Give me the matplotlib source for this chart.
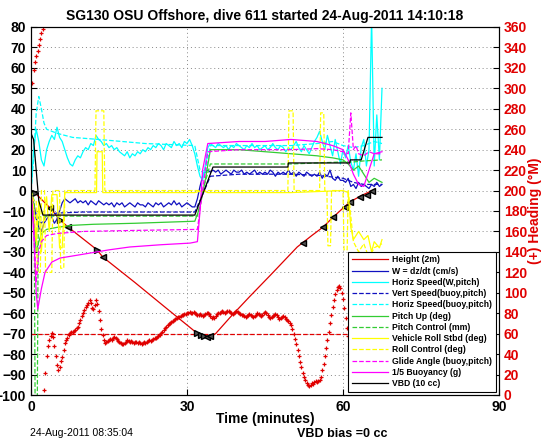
import matplotlib.pyplot as plt
import numpy as np

plt.rcParams['font.family'] = ['Liberation Sans', 'DejaVu Sans']
plt.rcParams['font.weight'] = 'bold'
plt.rcParams['axes.linewidth'] = 0.8
plt.rcParams['xtick.direction'] = 'in'
plt.rcParams['ytick.direction'] = 'in'

RED = '#e00000'
BLUE = '#1010c0'
CYAN = '#00ffff'
GREEN = '#33cc33'
YELLOW = '#ffff00'
MAGENTA = '#ff00ff'

# depth / height line (left axis)
t_depth = [0, 0.8, 3.7, 5.6, 7.1, 12.7, 13.8, 20, 26, 31.9, 33.8, 35.5, 38.3, 42, 46, 51.2, 54, 56.2, 58.1, 61.3, 63.5, 65.6]
depth = [0, -1.2, -8.6, -14.4, -17.8, -29, -32.5, -45, -57.5, -69.7, -71.7, -70, -62, -52, -41.5, -27.6, -22, -17.8, -13, -5.6, -2.5, 0]
bottom_t = [0, 66]
bottom_v = [-70, -70]

tri_r_t = [0.8, 5.6, 12.7, 31.9, 32.6, 33.3]
tri_r_v = [-1.2, -14.4, -29, -69.7, -70.5, -71.2]
tri_l_t = [3.7, 7.1, 13.8, 33.8, 34.4, 52.3, 56.2, 58.1, 60.4, 61.3, 63.3, 64.6, 65.6]
tri_l_v = [-8.6, -17.8, -32.5, -71.7, -71.2, -25.7, -17.8, -13, -8, -5.6, -3.2, -2, -0.2]

# heading (right axis, 0-360), one fix every 15 s from t=0.25
t_hd = np.arange(0.25, 65.3, 0.25)
heading = [305, 318, 326, 332, 337, 342, 348, 354, 358, 5, 22, 38, 48, 54, 58, 61, 57, 48, 38, 29,
           24, 27, 33, 37, 44, 51, 54, 56, 59, 61, 62, 62, 63, 64, 66, 67, 70, 73, 77, 80,
           83, 86, 88, 90, 93, 90, 85, 84, 88, 93, 89, 82, 73, 65, 59, 54, 51, 52, 53, 54,
           55, 54, 56, 57, 56, 55, 53, 52, 51, 50, 50, 51, 52, 54, 53, 52, 53, 52, 51, 52,
           52, 51, 52, 51, 50, 51, 52, 51, 52, 53, 54, 53, 54, 55, 56, 56, 57, 58, 59, 61,
           62, 64, 66, 67, 68, 69, 70, 71, 72, 73, 74, 75, 76, 76, 77, 78, 78, 79, 79, 80,
           80, 81, 80, 80, 81, 80, 79, 78, 78, 79, 78, 77, 78, 79, 80, 80, 79, 77, 75, 76,
           75, 77, 79, 80, 80, 81, 82, 81, 80, 81, 82, 82, 81, 80, 79, 80, 81, 82, 81, 80,
           79, 78, 78, 77, 76, 77, 78, 79, 78, 77, 76, 77, 78, 80, 79, 78, 77, 78, 80, 81,
           80, 78, 76, 75, 76, 77, 78, 79, 78, 76, 74, 75, 76, 77, 76, 74, 73, 72, 70, 68,
           65, 60, 55, 50, 44, 38, 32, 27, 22, 18, 15, 12, 10, 9, 10, 12, 11, 13, 14, 13,
           14, 15, 18, 24, 30, 38, 46, 54, 62, 70, 78, 86, 93, 99, 103, 106, 107, 105, 100, 94,
           85, 75, 66, 58, 52, 48, 47, 49, 52, 55, 57, 58, 56, 54, 57, 60, 62, 60, 58, 61,
           63]

# fast sampled series, every 30 s from t=0
t_fast = np.arange(0, 68, 0.5)
horiz_w = [0, 20, 30, 24, 15, 12, 20, 24, 27, 25,
           31, 26, 24, 20, 16, 13, 12, 15, 17, 16,
           19, 21, 20, 23, 22, 27, 25, 24, 22, 23,
           21, 22, 20, 21, 19, 18, 17, 19, 16, 18,
           17, 19, 18, 20, 19, 21, 20, 22, 21, 23,
           22, 20, 23, 22, 21, 24, 22, 23, 21, 24,
           23, 25, 22, 18, 12, 7, 5, 12, 21, 23,
           22, 21, 23, 22, 21, 22, 20, 22, 21, 23,
           22, 21, 20, 22, 21, 23, 21, 22, 20, 21,
           22, 20, 21, 23, 21, 20, 22, 21, 19, 21,
           20, 22, 24, 21, 19, 22, 20, 18, 21, 24,
           26, 29, 24, 20, 27, 22, 17, 25, 19, 13,
           20, 16, 22, 14, 10, 18, 7, 21, 25, 12,
           20, 85, 12, 37, 15, 50]
w_speed = [0, -6, -12, -18, -20, -16, -14, -12, -13, -16,
           -14, -10, -6, -4, -5, -6, -5, -4, -6, -5,
           -6, -5, -7, -5, -6, -7, -5, -6, -7, -6,
           -7, -6, -8, -6, -7, -6, -8, -7, -6, -7,
           -8, -6, -7, -7, -8, -6, -7, -8, -6, -7,
           -6, -8, -7, -6, -7, -5, -7, -6, -8, -7,
           -6, -7, -8, -8, -4, 2, 7, 9, 10, 9,
           10, 9, 10, 8, 9, 10, 9, 8, 10, 9,
           9, 10, 8, 9, 8, 9, 10, 8, 9, 8,
           9, 8, 10, 9, 7, 9, 8, 9, 8, 10,
           8, 9, 7, 9, 8, 7, 9, 8, 7, 8,
           7, 9, 6, 8, 7, 10, 6, 5, 7, 5,
           5, 4, 6, 2, 3, 1, 4, 2, 3, 2,
           1, 3, 2, 4, 2, 3]

vert_t = [0, 1, 2, 3, 5, 10, 20, 31.5, 33, 34.5, 40, 50, 55, 60, 62, 64, 66, 67.5]
vert_buoy = [0, -14, -16, -12, -11, -10.5, -10.5, -10.5, -2, 7, 8, 8, 7.5, 6, 4, 3, 3, 3]

hb_t = [0, 0.5, 1, 1.5, 2, 2.5, 3, 5, 8, 13, 22, 31.5, 32.5, 33.5, 34.5, 40, 50, 55, 58, 60, 62, 64, 66, 67.5]
horiz_buoy = [0, 15, 38, 46, 40, 33, 30, 28, 26, 25, 23, 22, 10, 8, 22, 22, 22, 23, 24, 22, 21, 22, 24, 23]

pitch_t = [0, 0.5, 1, 1.5, 2, 3, 5, 8, 12, 20, 31.5, 32.5, 33.5, 34.5, 40, 45, 50, 55, 58, 60, 61, 62, 63, 64, 65, 66, 67.5]
pitch = [0, -15, -30, -25, -21, -19, -18, -17, -16.5, -16, -15, -8, 5, 20, 20, 19, 18, 17, 16, 15, 13, 10, 12, 8, 4, 6, 4]

pc_t = [0, 0.6, 0.8, 1.2, 1.4, 3, 32, 33, 34.5, 50, 55, 60, 62, 64, 67.5]
pitch_ctl = [0, -5, -110, -110, -13, -12.5, -12.5, 0, 13, 13, 13.5, 14, 14, 14.5, 15]

roll_t = [0, 0.5, 1, 1.5, 2, 2.5, 3, 3.5, 4, 5, 5.5, 6, 6.5, 7, 12.6, 12.7, 13.7, 13.8, 20, 31.5,
          33, 34, 40, 49.5, 50, 55, 60, 61, 61.5, 62, 63, 64, 64.8, 65.5, 66, 67, 67.5]
roll = [0, -8, -25, -5, -30, -10, -3, -20, -2, -2, -28, -28, -1, -1, -1, 19, 19, -1, -1, -1,
        0, -1, -1, -1, -1, -0.5, 0, -1, -18, -24, -20, -24, -22, -30, -25, -28, -24]

rc_t = [0, 0.5, 1, 1.2, 1.8, 2.0, 2.6, 2.8, 4.0, 4.2, 5.5, 5.7, 6.3, 6.5, 12.3, 12.5, 14, 14.2, 31.5, 33, 34,
        49.4, 49.6, 50.4, 50.6, 55.5, 55.7, 56.3, 56.5, 56.9, 57.1, 57.6, 57.8, 60, 60.2, 60.8, 61, 62, 63, 64, 65, 66, 67.5]
roll_ctl = [0, -5, -5, -40, -40, 0, 0, -40, -40, 0, 0, -38, -38, 0, 0, 39, 39, 0, 0, 0, 0,
            0, 39, 39, 0, 0, 38, 38, 0, 0, -27, -27, 0, 0, -29, -29, 0, -25, -30, -26, -33, -28, -26]

glide_t = [0, 0.5, 1, 1.5, 2, 3, 5, 10, 20, 32, 33, 34, 40, 50, 55, 58, 60, 61, 61.5, 62, 62.5, 63, 64, 65, 66, 67.5]
glide = [0, -15, -45, -30, -25, -22, -21, -20, -19.5, -19, 0, 19, 20, 20, 20.5, 20, 19, 18, 38, 20, 22, 18, 17, 19, 18, 18]

buoy_t = [0, 0.5, 1, 1.3, 2, 2.7, 4, 5.6, 8, 11.3, 15, 19, 25, 30.6, 32, 32.5, 33, 34, 40, 45, 50, 55,
          58, 60, 61, 62, 63, 64, 65, 66, 67.5]
buoy = [0, -20, -50, -58, -48, -40, -35, -33, -32, -30.6, -29, -27.6, -26.5, -25.7, -25, -10, 10, 23,
        24, 24, 25, 24, 22, 20, 15, 8, 3, 2, 10, 18, 19]

vbd_t = [0, 0.5, 1, 1.5, 2.3, 31.5, 35, 49.4, 49.5, 61.3, 61.4, 63.5, 64.8, 67.5]
vbd = [28, 25, 10, -5, -12, -12, 11.5, 11.5, 13.5, 13.5, 15, 15, 26, 26]

fig = plt.figure(figsize=(5.46, 4.42), dpi=100)
ax = fig.add_axes([31/546, 1-395/442, 468/546, 368/442])

h_depth, = ax.plot(t_depth, depth, '-', color=RED, lw=0.9)
ax.plot(bottom_t, bottom_v, '--', color=RED, lw=0.9)
ax.plot(tri_r_t, tri_r_v, '>', mfc='#555555', mec='k', ms=5, ls='none')
ax.plot(tri_l_t, tri_l_v, '<', mfc='#555555', mec='k', ms=5, ls='none')

h_w, = ax.plot(t_fast, w_speed, '-', color=BLUE, lw=0.9)
h_hw, = ax.plot(t_fast, horiz_w, '-', color=CYAN, lw=0.9)
h_vb, = ax.plot(vert_t, vert_buoy, '--', color=BLUE, lw=0.9)
h_hb, = ax.plot(hb_t, horiz_buoy, '--', color=CYAN, lw=0.9)
h_p, = ax.plot(pitch_t, pitch, '-', color=GREEN, lw=0.9)
h_pc, = ax.plot(pc_t, pitch_ctl, '--', color=GREEN, lw=0.9)
h_r, = ax.plot(roll_t, roll, '-', color=YELLOW, lw=0.9)
h_rc, = ax.plot(rc_t, roll_ctl, '--', color=YELLOW, lw=0.9)
h_g, = ax.plot(glide_t, glide, '--', color=MAGENTA, lw=0.9)
h_b, = ax.plot(buoy_t, buoy, '-', color=MAGENTA, lw=0.9)
h_v, = ax.plot(vbd_t, vbd, '-', color='k', lw=0.9)

ax.set_xlim(0, 90)
ax.set_ylim(-100, 80)
ax.set_xticks([0, 30, 60, 90])
ax.set_yticks(np.arange(-100, 81, 10))
ax.tick_params(labelsize=10, length=4, top=False)
ax.grid(True, ls=(0, (1, 3)), color='#888888', lw=0.7)
ax.set_xlabel('Time (minutes)', fontsize=10, fontweight='bold', labelpad=-1)
ax.set_title('SG130 OSU Offshore, dive 611 started 24-Aug-2011 14:10:18',
             fontsize=10, fontweight='bold', pad=5)

ax2 = ax.twinx()
ax2.plot(t_hd, heading, '+', color=RED, ms=3.5, mew=0.9)
ax2.set_ylim(0, 360)
ax2.set_yticks(np.arange(0, 361, 20))
ax2.tick_params(labelsize=10, labelcolor=RED, length=4)
ax2.set_ylabel('(+) Heading (\u00b0M)', color=RED, fontsize=10, fontweight='bold', labelpad=1)

handles = [h_depth, h_w, h_hw, h_vb, h_hb, h_p, h_pc, h_r, h_rc, h_g, h_b, h_v]
labels = ['Height (2m)', 'W = dz/dt (cm/s)', 'Horiz Speed(W,pitch)', 'Vert Speed(buoy,pitch)',
          'Horiz Speed(buoy,pitch)', 'Pitch Up (deg)', 'Pitch Control (mm)',
          'Vehicle Roll Stbd (deg)', 'Roll Control (deg)', 'Glide Angle (buoy,pitch)',
          '1/5 Buoyancy (g)', 'VBD (10 cc)']
leg = ax2.legend(handles, labels, loc='lower right', fontsize=6.2, handlelength=4.2,
                 labelspacing=0.26, borderaxespad=0.4, fancybox=False, framealpha=1,
                 borderpad=0.4, handletextpad=0.5)
leg.get_frame().set_edgecolor('k')
leg.get_frame().set_linewidth(0.8)

fig.text(30/546, 1-433/442, '24-Aug-2011 08:35:04', fontsize=7.5, fontweight='normal', va='center')
fig.text(342/546, 1-434/442, 'VBD bias =0 cc', fontsize=9, fontweight='bold', va='center', ha='center')

fig.savefig('out.png', dpi=100)
